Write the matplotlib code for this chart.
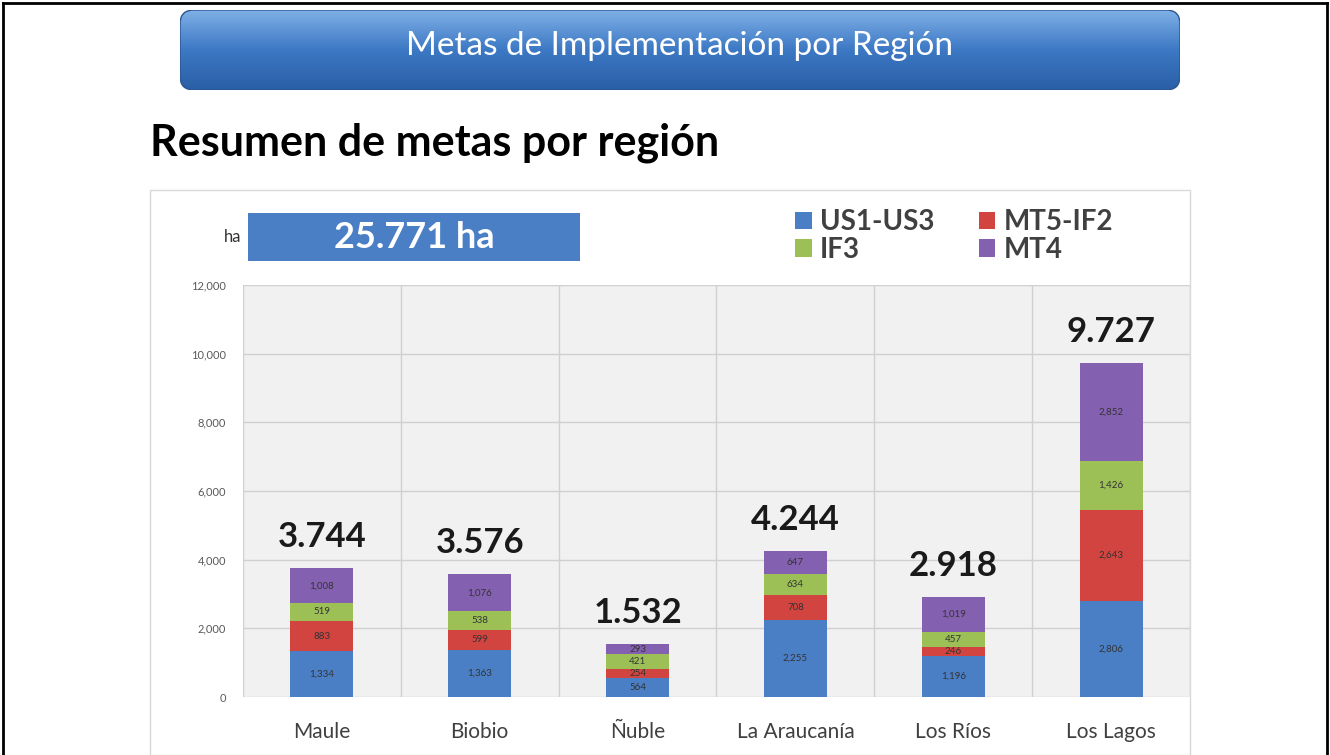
import matplotlib.pyplot as plt
import numpy as np
from matplotlib.patches import FancyBboxPatch, Rectangle
from matplotlib.lines import Line2D
from matplotlib.colors import LinearSegmentedColormap

plt.rcParams['font.family'] = ['Lato', 'DejaVu Sans']

regiones = ['Maule', 'Biobio', 'Ñuble', 'La Araucanía', 'Los Ríos', 'Los Lagos']
us1_us3 = [1334, 1363, 564, 2255, 1196, 2806]
mt5_if2 = [883, 599, 254, 708, 246, 2643]
if3 = [519, 538, 421, 634, 457, 1426]
mt4 = [1008, 1076, 293, 647, 1019, 2852]
totales = ['3.744', '3.576', '1.532', '4.244', '2.918', '9.727']
total_general = '25.771 ha'

series = [('US1-US3', us1_us3, '#4a7fc6'),
          ('MT5-IF2', mt5_if2, '#d2443f'),
          ('IF3', if3, '#9cc056'),
          ('MT4', mt4, '#8460b0')]

W, H = 1330, 755
fig = plt.figure(figsize=(W / 100, H / 100), dpi=100)

def fx(px):
    return px / W

def fy(py):
    return 1 - py / H

# outer frame
for xs, ys in [([fx(3), fx(3)], [0, fy(3)]), ([fx(3), fx(1327)], [fy(3), fy(3)]),
               ([fx(1327), fx(1327)], [0, fy(3)])]:
    fig.add_artist(Line2D(xs, ys, color='black', lw=2))

# banner with gradient
axb = fig.add_axes([fx(180), fy(90), fx(1000), 80 / H])
axb.set_axis_off()
grad = np.linspace(0, 1, 100).reshape(-1, 1)
cm = LinearSegmentedColormap.from_list('b', ['#7fb0e6', '#3c78c4', '#2a5fa6'])
im = axb.imshow(grad, cmap=cm, extent=[0, 1000, 0, 80], aspect='auto', origin='upper')
clip = FancyBboxPatch((0, 0), 1000, 80, boxstyle='round,pad=0,rounding_size=14',
                      transform=axb.transData, facecolor='none', edgecolor='#2a5590', lw=1)
axb.add_patch(clip)
im.set_clip_path(clip)
axb.set_xlim(0, 1000)
axb.set_ylim(0, 80)
axb.text(500, 44, 'Metas de Implementación por Región', color='white', fontsize=24,
         ha='center', va='center')

fig.text(fx(150), fy(143), 'Resumen de metas por región', fontsize=31, fontweight='bold',
         ha='left', va='center', color='black')

# chart panel border
fig.add_artist(Rectangle((fx(150), 0), fx(1040), fy(190), transform=fig.transFigure,
                         facecolor='none', edgecolor='#d9d9d9', lw=1))

ax = fig.add_axes([fx(243), fy(697), fx(947), (697 - 285) / H])
ax.set_facecolor('#f1f1f1')
x = np.arange(len(regiones))
bottom = np.zeros(len(regiones))
handles = []
for name, vals, col in series:
    b = ax.bar(x, vals, 0.4, bottom=bottom, color=col, label=name, zorder=3)
    handles.append(b)
    for xi, v, bt in zip(x, vals, bottom):
        ax.text(xi, bt + v / 2, f'{v:,}', ha='center', va='center', fontsize=7,
                color='#333333', zorder=4)
    bottom += np.array(vals)

for xi, tot, t in zip(x, bottom, totales):
    ax.annotate(t, (xi, tot), xytext=(0, 11), textcoords='offset points', ha='center',
                va='bottom', fontsize=25, fontweight='bold', color='#1a1a1a')

ax.set_xlim(-0.5, len(regiones) - 0.5)
ax.set_ylim(0, 12000)
ax.set_yticks(np.arange(0, 12001, 2000))
ax.set_yticklabels([f'{v:,}' for v in range(0, 12001, 2000)], fontsize=8, color='#595959')
ax.set_xticks(x)
ax.set_xticklabels(regiones, fontsize=15, color='#404040')
ax.set_xticks(np.arange(-0.5, len(regiones)), minor=True)
ax.grid(axis='x', which='minor', color='#d0d0d0', lw=1, zorder=0)
ax.grid(axis='y', which='major', color='#d0d0d0', lw=1, zorder=0)
ax.tick_params(which='both', length=0)
ax.tick_params(axis='x', pad=18)
ax.tick_params(axis='y', pad=12)
for s in ax.spines.values():
    s.set_visible(False)

fig.text(fx(233), fy(237), 'ha', fontsize=12, ha='center', va='center', color='#333333')
fig.add_artist(Rectangle((fx(248), fy(261)), fx(332), 48 / H, transform=fig.transFigure,
                         facecolor='#4a7fc6', edgecolor='none'))
fig.text(fx(414), fy(237), total_general, fontsize=26, fontweight='bold', color='white',
         ha='center', va='center')

order = [0, 2, 1, 3]
fig.legend([handles[i] for i in order], [series[i][0] for i in order], ncol=2,
           loc='center left', bbox_to_anchor=(fx(770), fy(236)), frameon=False,
           handlelength=0.6, handleheight=0.6, columnspacing=1.6,
           labelspacing=0.05, handletextpad=0.3, labelcolor='#404040',
           prop={'weight': 'bold', 'size': 20})

fig.savefig('out.png', dpi=100)
